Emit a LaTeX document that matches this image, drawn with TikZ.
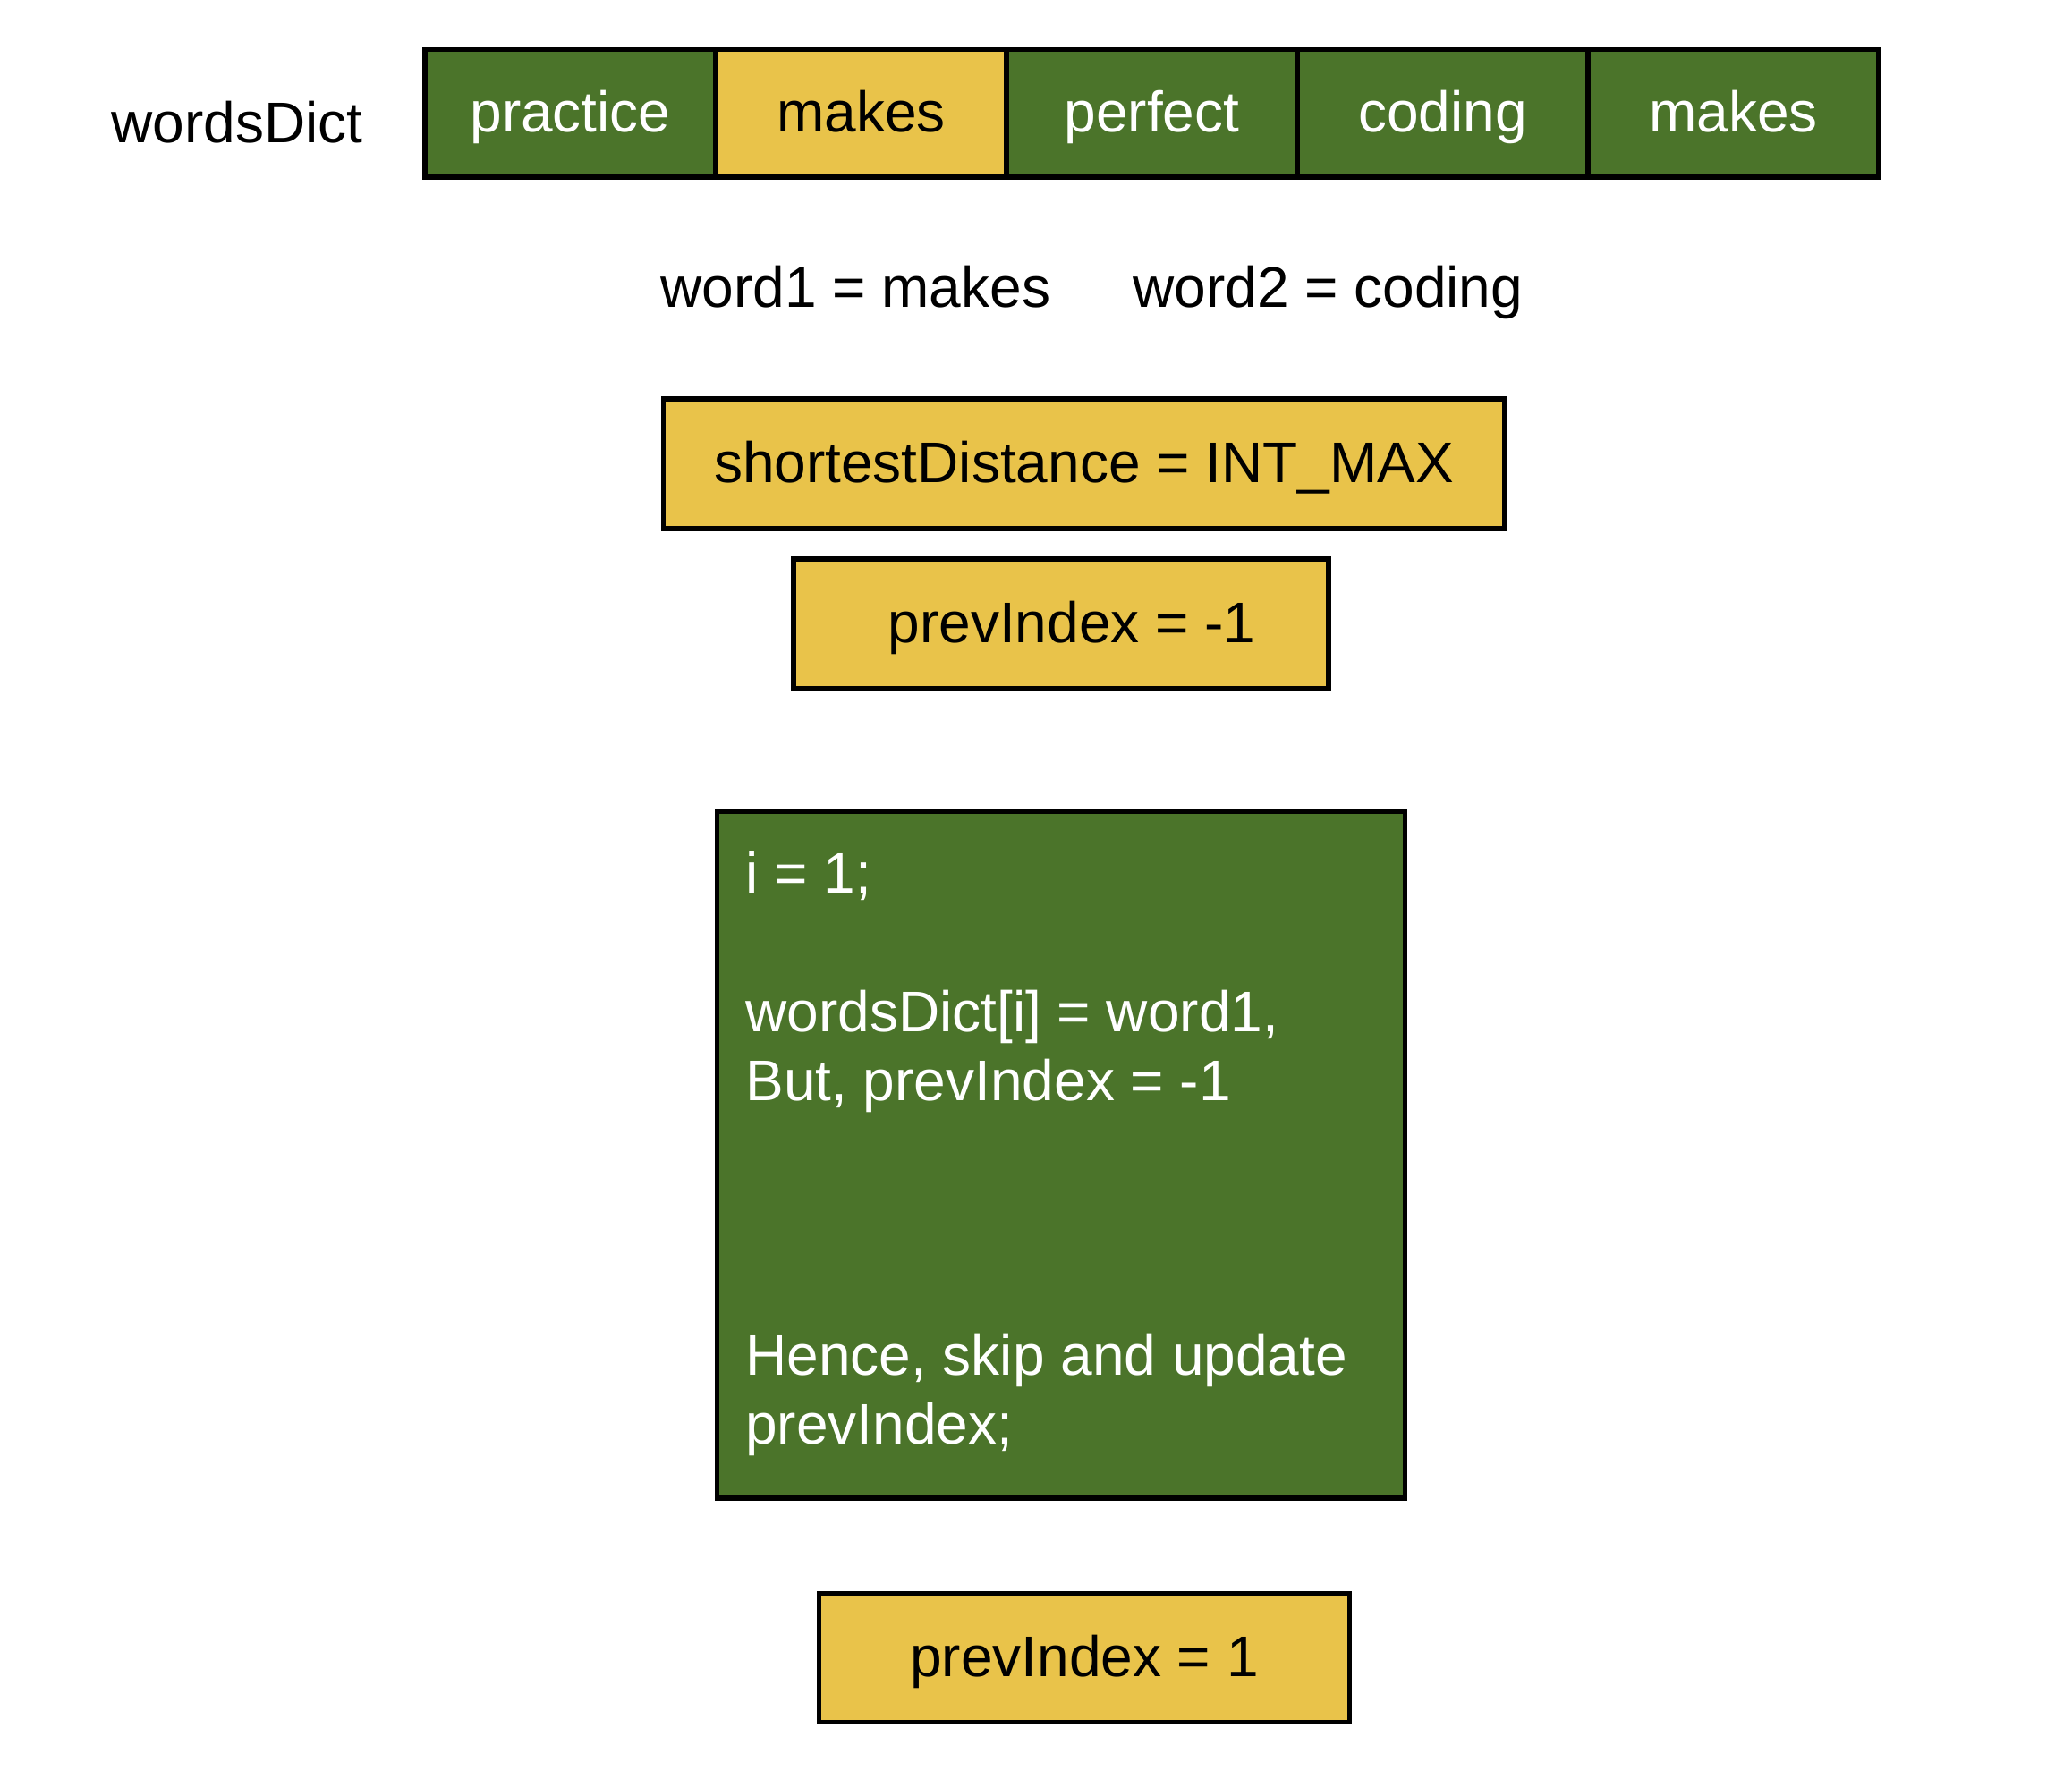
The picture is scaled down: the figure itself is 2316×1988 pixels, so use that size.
\documentclass[tikz,border=0pt]{standalone}
\usepackage{fontspec}
\setmainfont{Liberation Sans}
\definecolor{boxgreen}{RGB}{75,116,42}
\definecolor{boxyellow}{RGB}{233,195,74}
\tikzset{
  bigfont/.style={font=\fontsize{32}{38.5}\selectfont},
  cell/.style={draw=black, line width=3pt, minimum width=162.5pt, minimum height=71.5pt,
    inner sep=0pt, text height=27pt, text depth=6.5pt, bigfont},
  greencell/.style={cell, fill=boxgreen, text=white},
  yellowcell/.style={cell, fill=boxyellow, text=black},
  varbox/.style={draw=black, line width=2.8pt, fill=boxyellow, inner sep=0pt,
    text height=27pt, text depth=6.5pt, bigfont},
  codebox/.style={draw=black, line width=2.8pt, fill=boxgreen, inner sep=0pt},
  plaintext/.style={inner sep=0pt, anchor=base west, bigfont, align=left},
}
\begin{document}
\begin{tikzpicture}[x=0.5pt,y=-0.5pt]
\useasboundingbox (0,0) rectangle (2316,1988);
% array
\node[greencell]  (c1) at (637.5,126.5)  {practice};
\node[greencell]  (c3) at (1287.5,126.5) {perfect};
\node[greencell]  (c4) at (1612.5,126.5) {coding};
\node[greencell]  (c5) at (1937.5,126.5) {makes};
\node[yellowcell] (c2) at (962.5,126.5)  {makes};
\node[plaintext]  (lbl) at (124,159) {wordsDict};
% words
\node[plaintext] (w1) at (738,343) {word1 = makes};
\node[plaintext] (w2) at (1266,343) {word2 = coding};
% variables
\node[varbox, minimum width=470pt, minimum height=72.5pt] (sd) at (1211.5,518.5) {shortestDistance = INT\_MAX};
\node[varbox, minimum width=299pt, minimum height=72.5pt] (pi1) at (1186,697.5) {\hspace{12pt}prevIndex = -1};
% code box
\node[codebox, minimum width=384.5pt, minimum height=384pt] (code) at (1186,1291) {};
\node[plaintext, text=white] (t1) at (833,998) {i = 1;};
\node[plaintext, text=white] (t2) at (833,1230) {wordsDict[i] = word1,\\But, prevIndex = -1};
\node[plaintext, text=white] (t3) at (833,1614) {Hence, skip and update\\prevIndex;};
% result
\node[varbox, minimum width=296.5pt, minimum height=72pt] (pi2) at (1212,1853.5) {prevIndex = 1};
\end{tikzpicture}
\end{document}
